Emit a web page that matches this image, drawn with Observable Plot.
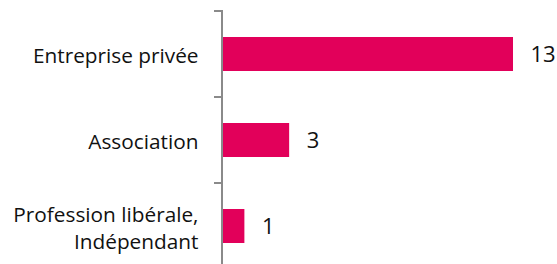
<!DOCTYPE html>
<html><head>
<meta charset="utf-8">
<script src="https://cdn.jsdelivr.net/npm/d3@7"></script>
<script src="https://cdn.jsdelivr.net/npm/@observablehq/plot@0.6"></script>
<style>body{margin:0;background:#fff}</style>
</head><body><div id="chart"></div>
<script>
const categories = ["Entreprise privée", "Association", "Profession libérale,\nIndépendant"];
const values = [13, 3, 1];
const data = categories.map((c, i) => ({category: c, value: values[i]}));

const barColor = "#e2005a";
const axisColor = "#8a8a8a";

// Category axis: vertical line with ticks at band boundaries (derived from the y scale)
function categoryAxis(index, scales, vals, dims) {
  const y = scales.y, x = scales.x;
  const step = y(categories[1]) - y(categories[0]);
  let bw = typeof y.bandwidth === "function" ? y.bandwidth() : y.bandwidth;
  if (!isFinite(bw)) bw = step * 0.4;
  const top = y(categories[0]) - (step - bw) / 2;
  const x0 = x(0);
  const g = d3.create("svg:g").attr("stroke", axisColor).attr("stroke-width", 2).attr("fill", "none");
  const bottom = top + step * categories.length;
  g.append("line").attr("x1", x0).attr("x2", x0).attr("y1", top - 1).attr("y2", bottom);
  d3.range(categories.length + 1).forEach(i => {
    const yy = top + i * step;
    g.append("line").attr("x1", x0 - 8).attr("x2", x0).attr("y1", yy).attr("y2", yy);
  });
  return g.node();
}

const chart = Plot.plot({
  width: 557,
  height: 264,
  style: {fontFamily: "'Open Sans', Lato, sans-serif", background: "#fff", overflow: "visible"},
  x: {domain: [0, 13], range: [222, 513], axis: null},
  y: {domain: categories, range: [11, 269], paddingInner: 0.6, paddingOuter: 0.3, axis: null},
  marks: [
    Plot.barX(data, {x: "value", y: "category", fill: barColor, insetLeft: 1}),
    categoryAxis,
    Plot.text(data, {x: 0, y: "category", text: "category", textAnchor: "end", dx: -24, fontSize: 20.8, lineHeight: 1.3, fill: "#111"}),
    Plot.text(data, {x: "value", y: "category", text: d => String(d.value), textAnchor: "start", dx: 17, fontSize: 22, fill: "#111"})
  ]
});
document.getElementById("chart").append(chart);
</script>
</body></html>
